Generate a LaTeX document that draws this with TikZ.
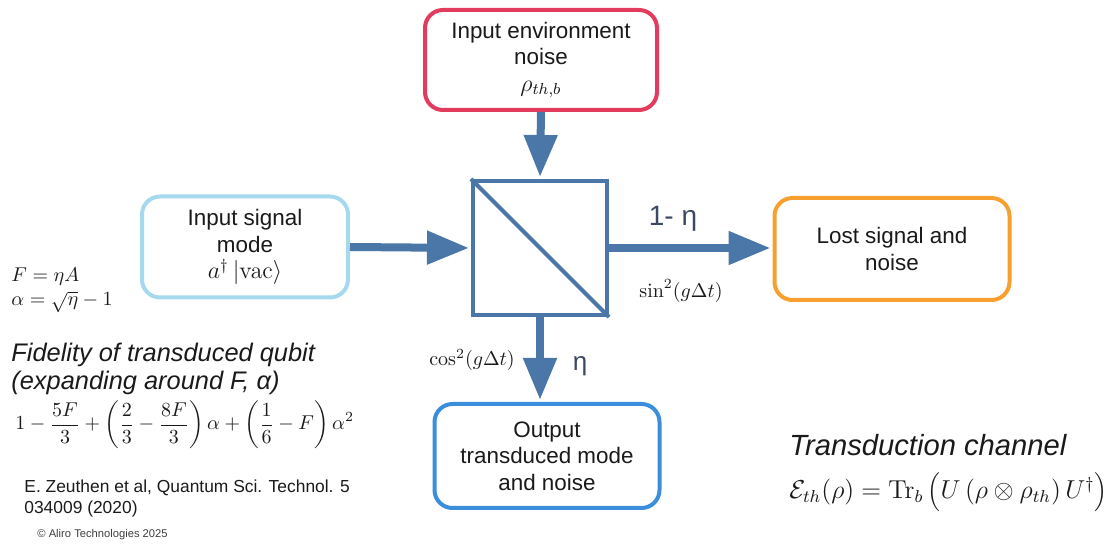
\documentclass[tikz,border=0pt]{standalone}
\usepackage[no-math]{fontspec}
\usepackage{graphicx}
\setmainfont{Liberation Sans}
\usetikzlibrary{arrows.meta}
\definecolor{envred}{HTML}{E23B5E}
\definecolor{siglight}{HTML}{A6D9EE}
\definecolor{lostorange}{HTML}{F7A030}
\definecolor{outblue}{HTML}{3B8EDB}
\definecolor{steel}{HTML}{4B77A8}
\definecolor{labcol}{HTML}{3B4863}
\definecolor{txt}{HTML}{1A1A1A}
\tikzset{
  box/.style={draw, line width=2pt, rounded corners=9pt, fill=white, align=center,
    font=\fontsize{11.2}{13.3}\selectfont, text=txt, inner sep=0pt},
  bsplit/.style={draw=steel, line width=2pt, minimum size=67pt, inner sep=0pt},
  flow/.style={draw=steel, line width=4pt, -{Triangle[width=16pt,length=21pt]}, shorten >=1pt},
  lab/.style={text=labcol, font=\fontsize{14}{16}\selectfont, inner sep=0pt},
  mathlab/.style={text=txt, inner sep=0pt},
  plain/.style={text=txt, inner sep=0pt, align=left}
}
\begin{document}
\begin{tikzpicture}[x=0.5pt,y=-0.5pt]
\useasboundingbox (0,0) rectangle (1114,544);
% boxes
\node[box, draw=envred, minimum width=116pt, minimum height=50pt] (env) at (541,60)
  {Input environment\\noise\\{\fontsize{12}{12}\selectfont$\rho_{th,b}$}};
\node[box, draw=siglight, minimum width=103pt, minimum height=50.5pt] (sig) at (245,247)
  {Input signal\\mode\\{\fontsize{12}{12}\selectfont$a^\dagger\left|\mathrm{vac}\right\rangle$}};
\node[box, draw=lostorange, minimum width=117.5pt, minimum height=51pt] (lost) at (892,249)
  {Lost signal and\\noise};
\node[box, draw=outblue, minimum width=112.5pt, minimum height=52pt] (out) at (547,456)
  {Output\\transduced mode\\and noise};
% beam splitter
\node[bsplit] (bs) at (540,248) {};
\draw[steel, line width=2pt] (bs.north west) -- (bs.south east);
% arrows
\draw[flow] (env.south) -- (bs.north);
\draw[flow] (sig.east) -- (bs.west);
\draw[flow] (bs.east) -- (lost.west |- bs.east);
\draw[flow] (bs.south) -- (bs.south |- out.north);
% arrow labels
\node[lab] (l1) at (673,219) {1- η};
\node[lab, font=\fontsize{13}{15}\selectfont] (l2) at (580,366) {η};
\node[mathlab] (s2) at (681,291) {$\sin^2(g\Delta t)$};
\node[mathlab] (c2) at (472,360) {$\cos^2(g\Delta t)$};
% left block
\node[mathlab, anchor=west] (f1) at (11,277) {$F=\eta A$};
\node[mathlab, anchor=west] (f2) at (11,302) {$\alpha=\sqrt{\eta}-1$};
\node[plain, anchor=north west, font=\fontsize{12.7}{13.6}\selectfont\itshape] (fid) at (11,343)
  {Fidelity of transduced qubit\\(expanding around F, α)};
\node[mathlab, anchor=west] (fform) at (15,425)
  {$\displaystyle 1-\frac{5F}{3}+\left(\frac{2}{3}-\frac{8F}{3}\right)\alpha+\left(\frac{1}{6}-F\right)\alpha^2$};
\node[plain, anchor=north west, font=\fontsize{8.7}{10.5}\selectfont] (ref) at (24,479)
  {E. Zeuthen et al, Quantum Sci. Technol. 5\\034009 (2020)};
\node[plain, anchor=west, font=\fontsize{5.6}{6}\selectfont, text=black!75] (copy) at (37,535)
  {© Aliro Technologies 2025};
% right block
\node[plain, anchor=west, font=\fontsize{14.6}{16}\selectfont\itshape] (tc) at (789,445)
  {Transduction channel};
\node[mathlab, anchor=west, font=\fontsize{12}{14}\selectfont] (tform) at (789,492)
  {\resizebox{159pt}{!}{$\mathcal{E}_{th}(\rho)=\mathrm{Tr}_b\left(U\left(\rho\otimes\rho_{th}\right)U^\dagger\right)$}};
\end{tikzpicture}
\end{document}
